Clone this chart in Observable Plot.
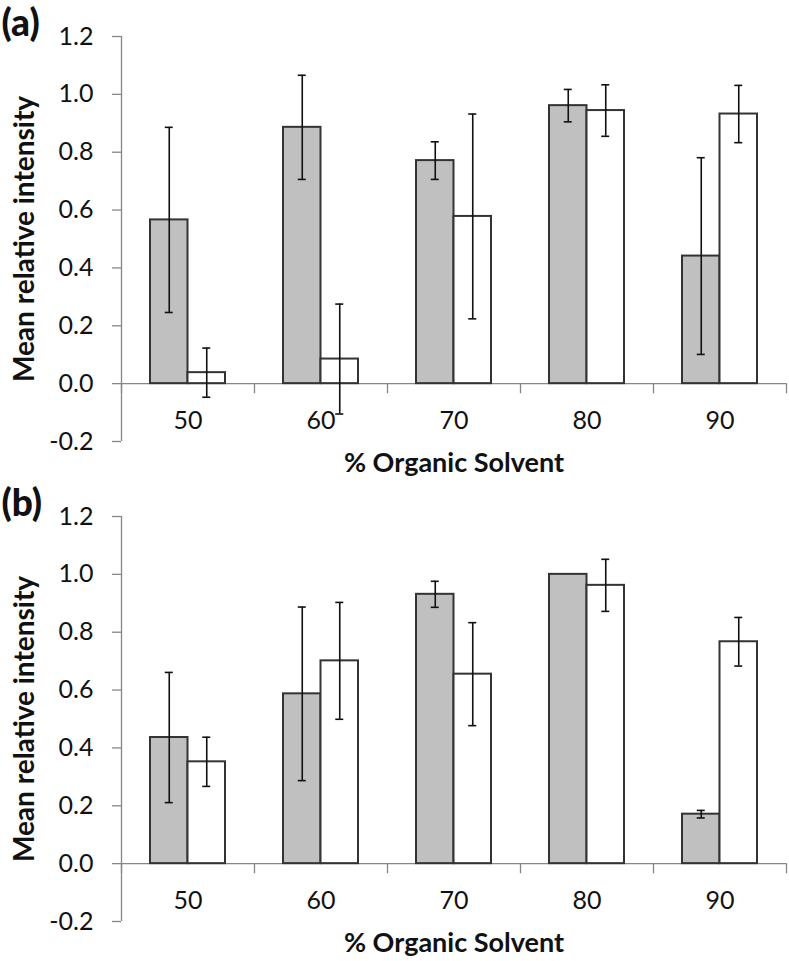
<!DOCTYPE html>
<html>
<head>
<meta charset="utf-8">
<script src="https://cdn.jsdelivr.net/npm/d3@7"></script>
<script src="https://cdn.jsdelivr.net/npm/@observablehq/plot@0.6"></script>
<style>
  html, body { margin: 0; padding: 0; background: #fff; }
  svg { display: block; }
</style>
</head>
<body>
<div id="chart"></div>
<script>
// ---- data ----
const categories = ["50", "60", "70", "80", "90"];
const yTicks = [-0.2, 0, 0.2, 0.4, 0.6, 0.8, 1.0, 1.2];
const xLabel = "% Organic Solvent";
const yLabel = "Mean relative intensity";

// panel (a)
const aGray = [0.566, 0.886, 0.771, 0.961, 0.441];
const aGrayErr = [0.320, 0.180, 0.065, 0.056, 0.340];
const aWhite = [0.038, 0.085, 0.578, 0.944, 0.932];
const aWhiteErr = [0.085, 0.190, 0.354, 0.089, 0.099];

// panel (b)
const bGray = [0.436, 0.587, 0.931, 1.000, 0.171];
const bGrayErr = [0.225, 0.300, 0.045, 0, 0.013];
const bWhite = [0.352, 0.701, 0.655, 0.962, 0.767];
const bWhiteErr = [0.085, 0.202, 0.178, 0.090, 0.084];

// ---- layout ----
const W = 789;
const mL = 121, mR = 3, mT = 36;
const bw = (W - mL - mR) / categories.length;   // band width in px
const barW = 37.5;
const outer = (bw - 2 * barW) / 2;
const capHalf = 4;
const axisColor = "#868686";
const barStroke = "#333333";
const font = "Lato, 'Open Sans', sans-serif";

function rows(means, errs) {
  return categories.map((c, i) => ({cat: c, mean: means[i], err: errs[i]}));
}

function panel(letter, gray, grayErr, white, whiteErr, H) {
  const g = rows(gray, grayErr);
  const w = rows(white, whiteErr);
  const gE = g.filter(d => d.err > 0);
  const wE = w.filter(d => d.err > 0);
  const gC = outer + barW / 2 - bw / 2;   // offset of gray bar center from band center
  const wC = outer + 1.5 * barW - bw / 2;
  return Plot.plot({
    width: W, height: H,
    marginLeft: mL, marginRight: mR, marginTop: mT, marginBottom: H - 441,
    style: {fontFamily: font, background: "#fff", color: "#000", overflow: "visible"},
    x: {type: "band", domain: categories, padding: 0, axis: null},
    y: {domain: [-0.2, 1.2], axis: null},
    marks: [
      // y axis line and ticks
      Plot.ruleX([categories[0]], {x: d => d, y1: -0.2, y2: 1.2, dx: -bw / 2, stroke: axisColor, strokeWidth: 1.3}),
      Plot.axisY({ticks: yTicks, tickFormat: d => d.toFixed(1), tickSize: 9, tickPadding: 19,
        fontSize: 25, stroke: axisColor, strokeWidth: 1.3, fill: "#111", label: null}),
      // category axis at zero
      Plot.ruleY([0], {stroke: axisColor, strokeWidth: 1.3}),
      Plot.ruleX(categories, {x: d => d, y1: 0, y2: -0.035, dx: -bw / 2, stroke: axisColor, strokeWidth: 1.3}),
      Plot.ruleX([categories[categories.length - 1]], {x: d => d, y1: 0, y2: -0.035, dx: bw / 2, stroke: axisColor, strokeWidth: 1.3}),
      // bars
      Plot.barY(g, {x: "cat", y: "mean", fill: "#c0c0c0", stroke: barStroke, strokeWidth: 2,
        insetLeft: outer, insetRight: bw - outer - barW}),
      Plot.barY(w, {x: "cat", y: "mean", fill: "#ffffff", stroke: barStroke, strokeWidth: 2,
        insetLeft: outer + barW, insetRight: outer}),
      // error bars
      Plot.ruleX(gE, {x: "cat", y1: d => d.mean - d.err, y2: d => d.mean + d.err, dx: gC, stroke: "#111", strokeWidth: 1.6}),
      Plot.ruleX(wE, {x: "cat", y1: d => d.mean - d.err, y2: d => d.mean + d.err, dx: wC, stroke: "#111", strokeWidth: 1.6}),
      ...[gE, wE].flatMap((data, k) => {
        const c = outer + barW / 2 + k * barW;
        const opts = {x: "cat", stroke: "#111", strokeWidth: 1.6, insetLeft: c - capHalf, insetRight: bw - c - capHalf};
        return [
          Plot.tickY(data, {...opts, y: d => d.mean + d.err}),
          Plot.tickY(data, {...opts, y: d => d.mean - d.err})
        ];
      }),
      // category labels
      Plot.text(categories, {x: d => d, y: 0, dy: 37, text: d => d, fontSize: 25, fill: "#111"}),
      // axis titles
      Plot.text([xLabel], {frameAnchor: "bottom", dy: 22, textAnchor: "middle", lineAnchor: "middle",
        text: d => d, fontSize: 27, fontWeight: "bold", fill: "#111"}),
      Plot.text([yLabel], {frameAnchor: "left", dx: -96, rotate: -90, textAnchor: "middle", lineAnchor: "middle",
        text: d => d, fontSize: 28, fontWeight: "bold", fill: "#111"}),
      // panel letter
      Plot.text([letter], {frameAnchor: "top-left", dx: -mL + 1, dy: -mT + 9, textAnchor: "start", lineAnchor: "top",
        text: d => d, fontSize: 37, fontWeight: 900, fill: "#111"})
    ]
  });
}

const root = document.getElementById("chart");
root.appendChild(panel("(a)", aGray, aGrayErr, aWhite, aWhiteErr, 480));
root.appendChild(panel("(b)", bGray, bGrayErr, bWhite, bWhiteErr, 481));
</script>
</body>
</html>
